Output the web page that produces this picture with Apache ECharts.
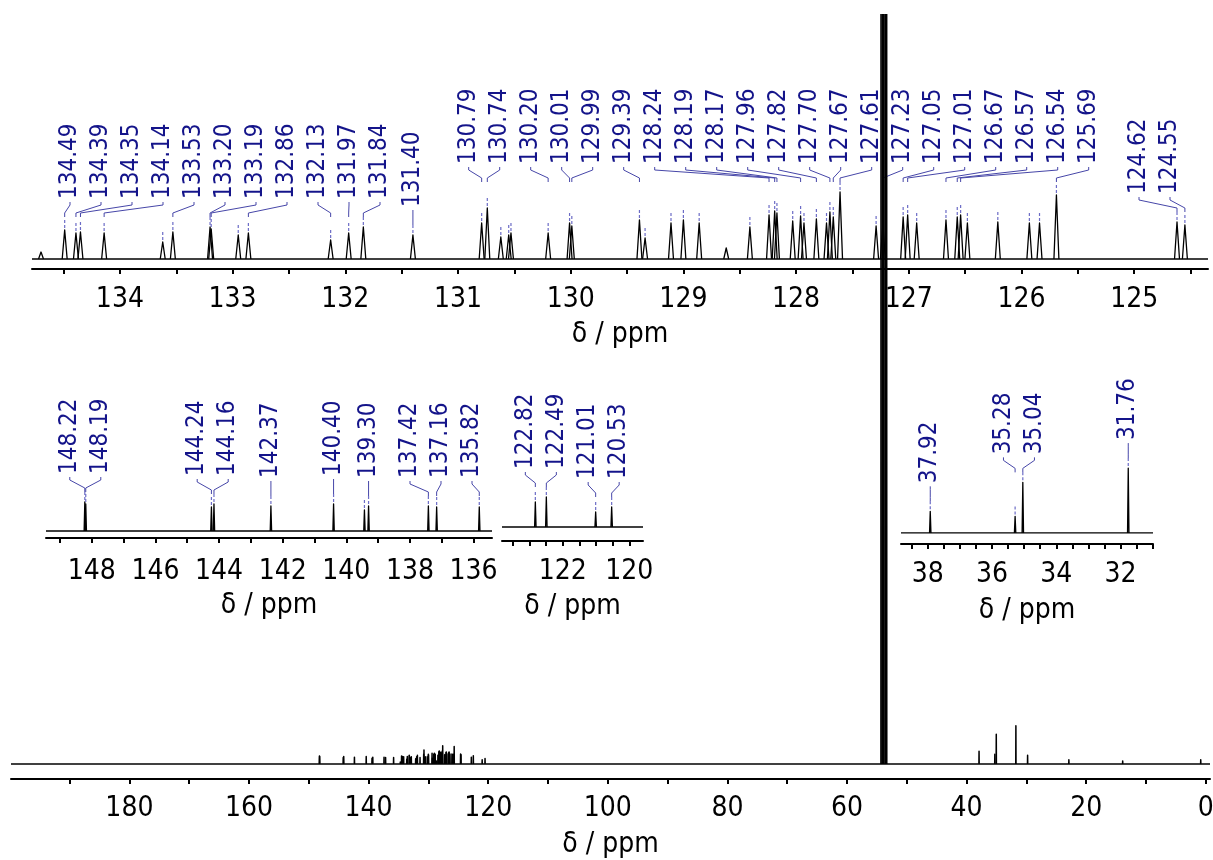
<!DOCTYPE html>
<html>
<head>
<meta charset="utf-8">
<title>13C NMR spectrum</title>
<script src="https://cdn.jsdelivr.net/npm/echarts@6/dist/echarts.min.js"></script>
<style>
  html, body { margin: 0; padding: 0; background: #ffffff; }
  #chart { width: 1213px; height: 860px; }
</style>
</head>
<body>
<div id="chart"></div>
<script>
// Picked 13C resonances: chemical shift (ppm) and relative intensity (a.u.)
const peakPpm = [
  134.49, 134.39, 134.35, 134.14, 133.62, 133.53, 133.20, 133.19, 132.95, 132.86,
  132.13, 131.97, 131.84, 131.40, 130.79, 130.74, 130.62, 130.55, 130.53, 130.20,
  130.01, 129.99, 129.39, 129.34, 129.11, 129.00, 128.86, 128.41, 128.24, 128.19,
  128.17, 128.03, 127.96, 127.93, 127.82, 127.73, 127.70, 127.67, 127.61, 127.29,
  127.23, 127.05, 127.01, 126.93, 126.67, 126.57, 126.54, 126.48, 126.21, 125.93,
  125.84, 125.69, 124.62, 124.55,
  148.22, 148.19, 144.24, 144.16, 142.37, 140.40, 139.43, 139.30, 137.42, 137.16, 135.82,
  122.82, 122.49, 121.01, 120.53,
  37.92, 35.28, 35.04, 31.76
];
const peakInt = [
  29, 26, 27, 26, 17, 27, 32, 30, 24, 26,
  19, 26, 32, 24, 36, 51, 22, 24, 26, 26,
  36, 33, 39, 21, 36, 39, 36, 32, 44, 48,
  46, 38, 43, 36, 40, 36, 47, 42, 67, 33,
  35, 42, 44, 36, 39, 42, 44, 36, 37, 36,
  36, 64, 37, 34,
  29, 27, 24, 27, 25, 27, 21, 25, 25, 24, 24,
  25, 30, 15, 20,
  47, 36, 110, 141
];

// Unpicked signals: weak aromatic shoulders, CD2Cl2 quintet, trace aliphatic impurities
const minorPpm = [134.70, 128.62, 54.31, 54.07, 53.84, 53.61, 53.37, 29.80, 22.90, 13.90, 0.85];
const minorInt = [7, 11, 4000, 8000, 12000, 8000, 4000, 32, 15, 11, 15];

// Annotated shifts in each expansion
const labelsTop = [
  134.49, 134.39, 134.35, 134.14, 133.53, 133.20, 133.19, 132.86, 132.13, 131.97,
  131.84, 131.40, 130.79, 130.74, 130.20, 130.01, 129.99, 129.39, 128.24, 128.19,
  128.17, 127.96, 127.82, 127.70, 127.67, 127.61, 127.23, 127.05, 127.01, 126.67,
  126.57, 126.54, 125.69, 124.62, 124.55
];
const labelsLeft = [148.22, 148.19, 144.24, 144.16, 142.37, 140.40, 139.30, 137.42, 137.16, 135.82];
const labelsMid = [122.82, 122.49, 121.01, 120.53];
const labelsRight = [37.92, 35.28, 35.04, 31.76];

// Axis tick labels
const tickLabelsMain = [0, 20, 40, 60, 80, 100, 120, 140, 160, 180];
const tickLabelsTop = [125, 126, 127, 128, 129, 130, 131, 132, 133, 134];
const tickLabelsLeft = [136, 138, 140, 142, 144, 146, 148];
const tickLabelsMid = [120, 122];
const tickLabelsRight = [32, 34, 36, 38];

// ---------------------------------------------------------------------------
const FONT = '"DejaVu Sans Condensed", "Liberation Sans", Arial, sans-serif';
const LABEL_COLOR = '#14148a';
const LINK_COLOR = '#4646a8';
const MARK_COLOR = '#6c6cc6';
const HALF_WIDTH = 0.022;   // half line width at the foot of a resonance, ppm
const PITCH = 31;           // spacing between neighbouring shift labels, px

function steps(a, b, s) {
  const out = [];
  for (let v = a; v <= b + 1e-9; v += s) out.push(+v.toFixed(3));
  return out;
}

// Panel layout: full spectrum plus four expansions
const panels = [
  { grid: { left: 11, right: 3, top: 14, bottom: 81 }, x: [-0.7, 199.8], y: [-56, 2777], stroke: 1.5,
    ticks: steps(0, 190, 10), tickLabels: tickLabelsMain, margin: 16, nameGap: 52, labels: null, edge: 0 },
  { grid: { left: 32, right: 5, top: 150, bottom: 591 }, x: [124.345, 134.78], y: [-10, 109], stroke: 1.3,
    ticks: steps(124.5, 134.5, 0.5), tickLabels: tickLabelsTop, margin: 17, nameGap: 52, labels: labelsTop, edge: 38 },
  { grid: { left: 46, right: 721, top: 440, bottom: 322 }, x: [135.42, 149.44], y: [-7, 91], stroke: 1.3,
    ticks: steps(136, 149, 1), tickLabels: tickLabelsLeft, margin: 20, nameGap: 54, labels: labelsLeft, edge: 20 },
  { grid: { left: 502, right: 570, top: 440, bottom: 319 }, x: [119.59, 123.82], y: [-14, 87], stroke: 1.3,
    ticks: steps(120, 123.5, 0.5), tickLabels: tickLabelsMid, margin: 17, nameGap: 52, labels: labelsMid, edge: 20 },
  { grid: { left: 901, right: 60, top: 400, bottom: 316 }, x: [30.99, 38.83], y: [-24, 289], stroke: 1.3,
    ticks: steps(31, 38.5, 0.5), tickLabels: tickLabelsRight, margin: 17, nameGap: 53, labels: labelsRight, edge: 20 }
];

const allSignals = peakPpm.map((v, i) => [v, peakInt[i]])
  .concat(minorPpm.map((v, i) => [v, minorInt[i]]));

// Spectrum trace: flat baseline with one narrow line per resonance
function renderSpectrum(p) {
  return function (params, api) {
    const lo = p.x[0], hi = p.x[1];
    const style = { stroke: '#000', lineWidth: p.stroke, fill: null, lineJoin: 'round' };
    const children = [{
      type: 'polyline', silent: true,
      shape: { points: [api.coord([hi, 0]), api.coord([lo, 0])] }, style
    }];
    allSignals.forEach(([v, h]) => {
      if (v < lo - 0.1 || v > hi + 0.1) return;
      children.push({
        type: 'polyline', silent: true,
        shape: { points: [api.coord([v + HALF_WIDTH, 0]), api.coord([v, h]), api.coord([v - HALF_WIDTH, 0])] },
        style
      });
    });
    return { type: 'group', children };
  };
}

// Spread labels horizontally: overlapping neighbours are merged into evenly
// spaced clusters, each centred on its peaks and kept inside [lo, hi].
function spread(targets, d, lo, hi) {
  const stack = [];
  const place = c => {
    let s = 0;
    c.t.forEach((t, j) => { s += t - j * d; });
    s /= c.t.length;
    c.start = Math.min(Math.max(s, lo), hi - (c.t.length - 1) * d);
  };
  targets.forEach((t, k) => {
    const c = { t: [t], idx: [k] };
    place(c);
    stack.push(c);
    while (stack.length > 1) {
      const b = stack[stack.length - 1], a = stack[stack.length - 2];
      if (b.start >= a.start + a.t.length * d - 0.01) break;
      stack.pop(); stack.pop();
      const m = { t: a.t.concat(b.t), idx: a.idx.concat(b.idx) };
      place(m);
      stack.push(m);
    }
  });
  return stack;
}

// Peak markers, shift labels and leader lines of one expansion
function renderAnnotations(p) {
  return function (params, api) {
    const lo = p.x[0], hi = p.x[1];
    const children = [];
    const xl = api.coord([hi, 0])[0], xr = api.coord([lo, 0])[0];

    peakPpm.forEach((v, i) => {
      if (v < lo || v > hi) return;
      const c = api.coord([v, peakInt[i]]);
      children.push({
        type: 'line', silent: true,
        shape: { x1: c[0], y1: c[1] - 10, x2: c[0], y2: c[1] - 2 },
        style: { stroke: MARK_COLOR, lineWidth: 1.2, lineDash: [3, 2] }
      });
    });

    const items = p.labels.map(v => {
      const c = api.coord([v, peakInt[peakPpm.indexOf(v)]]);
      return { v, px: c[0], top: c[1] };
    }).sort((a, b) => a.px - b.px);

    const clusters = spread(items.map(o => o.px), PITCH, xl + p.edge, xr - p.edge);
    clusters.forEach(cl => {
      const top = Math.min.apply(null, cl.idx.map(k => items[k].top));
      const bottom = top - 28;
      const elbow = bottom + 14;
      cl.idx.forEach((k, j) => {
        const it = items[k];
        const lx = cl.start + j * PITCH;
        children.push({
          type: 'text', silent: true,
          x: lx, y: bottom, rotation: Math.PI / 2,
          style: {
            text: it.v.toFixed(2), x: 0, y: 0, align: 'left', verticalAlign: 'middle',
            fill: LABEL_COLOR, font: '24px ' + FONT
          }
        });
        children.push({
          type: 'polyline', silent: true,
          shape: { points: [[lx, bottom + 3], [lx, bottom + 6], [it.px, elbow], [it.px, elbow + 4]] },
          style: { stroke: LINK_COLOR, lineWidth: 1, fill: null }
        });
      });
    });
    return { type: 'group', children };
  };
}

const option = {
  animation: false,
  backgroundColor: '#ffffff',
  textStyle: { fontFamily: FONT },
  grid: panels.map(p => Object.assign({ containLabel: false, outerBoundsMode: 'none' }, p.grid)),
  xAxis: panels.map((p, i) => ({
    type: 'value', gridIndex: i, inverse: true, min: p.x[0], max: p.x[1],
    name: 'δ / ppm', nameLocation: 'middle', nameGap: p.nameGap,
    nameTextStyle: { fontSize: 28, color: '#000', fontFamily: FONT },
    axisLine: { show: true, onZero: false, lineStyle: { color: '#000', width: 2 } },
    axisTick: { show: true, customValues: p.ticks, length: 5, lineStyle: { color: '#000', width: 2 } },
    axisLabel: { show: true, customValues: p.tickLabels, margin: p.margin, fontSize: 28, color: '#000',
                 fontFamily: FONT, hideOverlap: false },
    splitLine: { show: false }
  })),
  yAxis: panels.map((p, i) => ({ type: 'value', gridIndex: i, min: p.y[0], max: p.y[1], show: false })),
  series: []
};

panels.forEach((p, i) => {
  option.series.push({
    type: 'custom', name: 'spectrum-' + i, coordinateSystem: 'cartesian2d',
    xAxisIndex: i, yAxisIndex: i, clip: true, silent: true,
    z: i === 0 ? 10 : 3,
    data: [[p.x[0], 0]],
    renderItem: renderSpectrum(p)
  });
  if (p.labels) {
    option.series.push({
      type: 'custom', name: 'labels-' + i, coordinateSystem: 'cartesian2d',
      xAxisIndex: i, yAxisIndex: i, clip: false, silent: true, z: 4,
      data: [[p.x[0], 0]],
      renderItem: renderAnnotations(p)
    });
  }
});

const chart = echarts.init(document.getElementById('chart'), null, { renderer: 'canvas' });
chart.setOption(option);
</script>
</body>
</html>
